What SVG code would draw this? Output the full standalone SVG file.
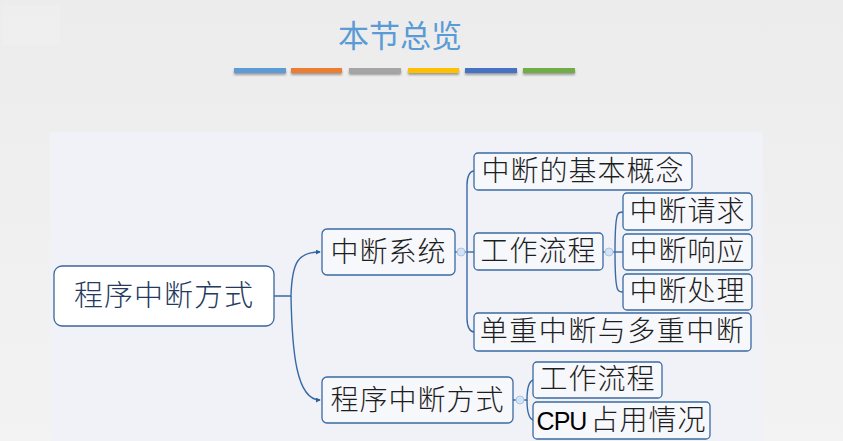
<svg xmlns="http://www.w3.org/2000/svg" width="843" height="441" viewBox="0 0 843 441">
<defs>
<linearGradient id="bg" x1="0" y1="0" x2="0" y2="1">
<stop offset="0" stop-color="#ececec"/>
<stop offset="1" stop-color="#f3f3f3"/>
</linearGradient>
<filter id="sh" x="-10%" y="-50%" width="120%" height="250%">
<feDropShadow dx="0" dy="2" stdDeviation="1.2" flood-color="#000" flood-opacity="0.35"/>
</filter>
<marker id="ah" viewBox="0 0 6 6" refX="5" refY="3" markerWidth="5" markerHeight="5" orient="auto" markerUnits="userSpaceOnUse">
<path d="M0,0 L6,3 L0,6 z" fill="#2f5f98"/>
</marker>
</defs>
<style>
.node rect{fill:#f7f8fc;stroke:#3a6aa3;stroke-width:1.3}
.node text{font-family:"Noto Sans CJK SC","Noto Sans",sans-serif;font-size:28px;fill:#1e1e1e;text-anchor:middle;font-weight:300;letter-spacing:1px}
.conn path{fill:none;stroke:#3a6aa3;stroke-width:1.4}
.dot{fill:#d3e2f4;stroke:#a9c6e8;stroke-width:1}
</style>
<rect x="0" y="0" width="843" height="441" fill="url(#bg)"/>
<rect x="50" y="132" width="713" height="309" fill="#f0f2f7"/>
<rect x="2" y="5" width="58" height="40" fill="#f4f4f4" opacity="0.35"/>
<text x="400" y="47" font-family="'Noto Sans CJK SC',sans-serif" font-size="31" fill="#5b9bd5" text-anchor="middle" font-weight="400">本节总览</text>
<g filter="url(#sh)">
<rect x="234" y="68" width="52" height="5" fill="#5b9bd5"/>
<rect x="291" y="68" width="51" height="5" fill="#ed7d31"/>
<rect x="349" y="68" width="52" height="5" fill="#a5a5a5"/>
<rect x="408" y="68" width="51" height="5" fill="#ffc000"/>
<rect x="465" y="68" width="52" height="5" fill="#4472c4"/>
<rect x="523" y="68" width="52" height="5" fill="#70ad47"/>
</g>
<g class="conn">
<path d="M274,296 H291 C292,262 298,252 320,252" marker-end="url(#ah)"/>
<path d="M291,296 C292,350 296,400 320,400" marker-end="url(#ah)"/>
<path d="M455,252 H466 M467,252 C467,230 467,200 467,185 C467,176 470,171 474,171"/>
<path d="M467,252 H474"/>
<path d="M467,252 C467,280 467,305 467,318 C467,327 470,332 474,332"/>
<path d="M603,252 H623"/>
<path d="M615,252 C615,235 615,218 618,214 C619,212 621,212 623,212"/>
<path d="M615,252 C615,269 615,286 618,290 C619,292 621,292 623,292"/>
<path d="M513,400 H527 C527,390 528,382 533,380"/>
<path d="M527,400 C527,410 528,418 533,420"/>
</g>
<circle class="dot" cx="461" cy="252" r="4"/>
<circle class="dot" cx="609" cy="252" r="4"/>
<circle class="dot" cx="520" cy="400" r="4"/>
<g id="root" class="node">
<rect x="54" y="266" width="220" height="60" rx="8" style="fill:#ffffff;stroke:#3b6699"/>
<text x="164" y="306" style="font-size:29px;fill:#243a5e;letter-spacing:1px">程序中断方式</text>
</g>
<g id="n-system" class="node">
<rect x="322" y="229" width="133" height="46" rx="5"/>
<text x="388.5" y="262">中断系统</text>
</g>
<g id="n-method" class="node">
<rect x="322" y="377" width="191" height="46" rx="5"/>
<text x="417.5" y="410">程序中断方式</text>
</g>
<g id="n-concept" class="node">
<rect x="474" y="153" width="218" height="37" rx="4"/>
<text x="583" y="181">中断的基本概念</text>
</g>
<g id="n-flow" class="node">
<rect x="474" y="233" width="129" height="37" rx="4"/>
<text x="538.5" y="261">工作流程</text>
</g>
<g id="n-multi" class="node">
<rect x="474" y="313" width="277" height="38" rx="4"/>
<text x="612.5" y="341" style="letter-spacing:1.5px">单重中断与多重中断</text>
</g>
<g id="n-request" class="node">
<rect x="623" y="193" width="129" height="37" rx="4"/>
<text x="687.5" y="221">中断请求</text>
</g>
<g id="n-response" class="node">
<rect x="623" y="234" width="129" height="36" rx="4"/>
<text x="687.5" y="261">中断响应</text>
</g>
<g id="n-handle" class="node">
<rect x="623" y="274" width="129" height="36" rx="4"/>
<text x="687.5" y="301">中断处理</text>
</g>
<g id="n-flow2" class="node">
<rect x="533" y="362" width="129" height="36" rx="4"/>
<text x="597.5" y="389">工作流程</text>
</g>
<g id="n-cpu" class="node">
<rect x="533" y="402" width="177" height="37" rx="4"/>
<text x="621.5" y="430"><tspan style="font-family:'Liberation Sans',sans-serif;font-weight:400;letter-spacing:-1px;fill:#000" font-size="25">CPU</tspan><tspan dx="4">占用情况</tspan></text>
</g>
</svg>
